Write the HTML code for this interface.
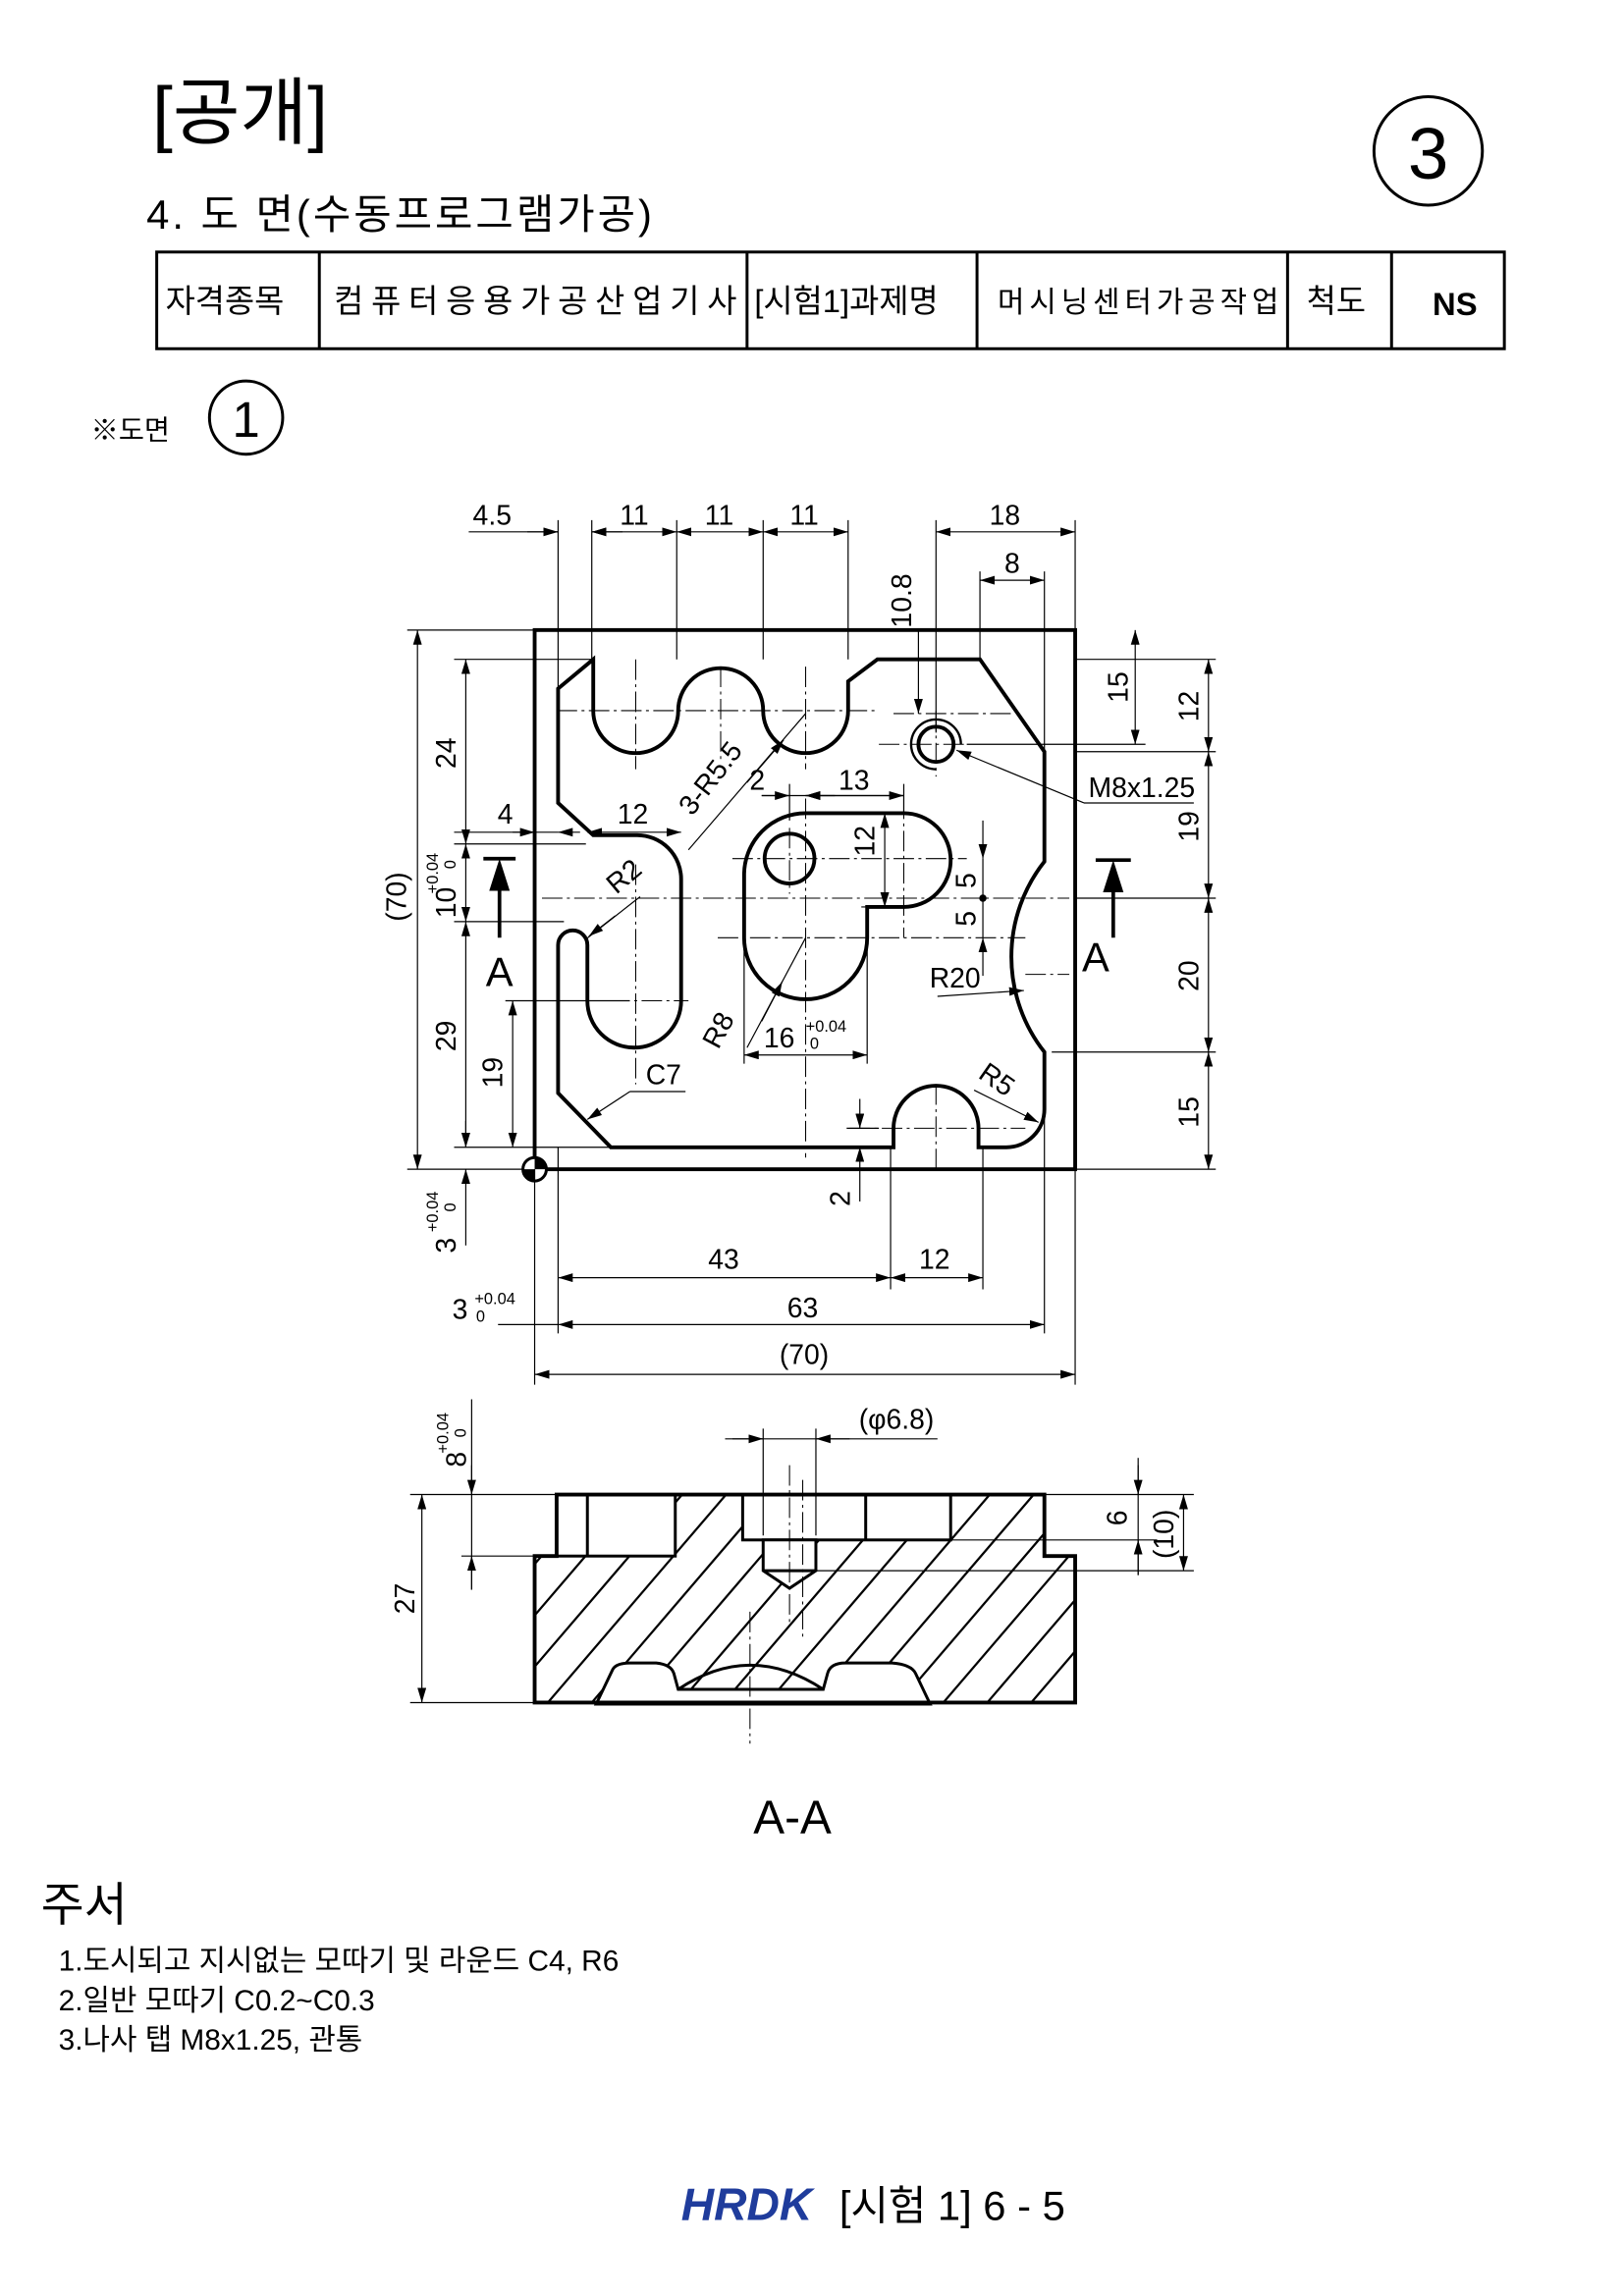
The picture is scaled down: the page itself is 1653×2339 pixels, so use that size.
<!DOCTYPE html>
<html><head><meta charset="utf-8"><style>
html,body{margin:0;padding:0;background:#fff}
svg{display:block}
text{font-family:"Liberation Sans","Noto Sans CJK KR",sans-serif;fill:#000}
.k{stroke:#000;stroke-width:2.6;fill:none}
.t{stroke:#000;stroke-width:0.8;fill:none}
.c{stroke:#000;stroke-width:0.7;fill:none;stroke-dasharray:14 3 2 3}
.d{stroke:#000;stroke-width:0.8;fill:none;marker-start:url(#a);marker-end:url(#a)}
.e{stroke:#000;stroke-width:0.8;fill:none;marker-end:url(#a)}
.dim{font-size:19px}
</style></head><body>
<svg width="1653" height="2339" viewBox="0 0 1108 1567" preserveAspectRatio="none" xmlns="http://www.w3.org/2000/svg">
<defs>
<marker id="a" viewBox="0 0 10 6" refX="10" refY="3" markerWidth="10" markerHeight="6" markerUnits="userSpaceOnUse" orient="auto-start-reverse"><path d="M0,0 L10,3 L0,6 Z" fill="#000"/></marker>
<clipPath id="sec"><path d="M365,1062 L380,1062 L380,1020 L713,1020 L713,1062 L734,1062 L734,1162 L365,1162 Z"/></clipPath>
</defs>

<!-- header -->
<text x="104" y="94" font-size="50">[공개]</text>
<text x="100" y="156" font-size="28" letter-spacing="2">4. 도 면(수동프로그램가공)</text>
<circle cx="975" cy="103" r="37" class="k" style="stroke-width:2"/>
<text x="975" y="122" font-size="50" text-anchor="middle">3</text>
<rect x="107" y="172" width="920" height="66" class="k" style="stroke-width:2"/>
<path d="M218,172V238M510,172V238M667,172V238M879,172V238M950,172V238" class="k" style="stroke-width:2"/>
<g font-size="22">
<text x="113" y="213">자격종목</text>
<text x="228" y="213" textLength="275">컴퓨터응용가공산업기사</text>
<text x="515" y="213">[시험1]과제명</text>
<text x="681" y="213" font-size="20" textLength="192">머시닝센터가공작업</text>
<text x="892" y="213">척도</text>
<text x="978" y="215" font-weight="bold">NS</text>
</g>
<text x="62" y="300" font-size="19">※도면</text>
<circle cx="168" cy="285" r="25" class="k" style="stroke-width:2"/>
<text x="168" y="298" font-size="34" text-anchor="middle">1</text>

<!-- top view -->
<rect x="365" y="430" width="369" height="368" class="k"/>
<path class="k" d="M405,450 L405,485 A29,29 0 0 0 463,485 A29,29 0 0 1 521,485 A29,29 0 0 0 579,485 L579,465 L599,450 L669,450 L713,513 L713,588 A105,105 0 0 0 713,718 L713,757 A26,26 0 0 1 687,783 L668,783 L668,770 A29,29 0 0 0 610,770 L610,783 L417,783 L381,746 L381,645 A10,10 0 0 1 401,645 L401,683 A32,32 0 0 0 465,683 L465,600 A30,30 0 0 0 435,570 L405,570 L381,548 L381,470 Z"/>
<path class="k" d="M508,597 A42,42 0 0 1 550,555 L617,555 A32,32 0 0 1 617,619 L592,619 L592,640 A42,42 0 0 1 508,640 Z"/>
<circle cx="539" cy="586" r="17" class="k"/>
<circle cx="639" cy="508" r="12" class="k"/>
<path class="k" d="M656,508 A17,17 0 1 0 639,525" style="stroke-width:1.6"/>
<g class="c">
<path d="M380,485H600M610,487H690M600,508H660M500,586H660M370,613H730M490,640H700M372,683H470M700,665H730M580,770H700M434,450V525M492,455V520M550,455V525M639,485V530M539,565V610M550,545V790M617,545V640M434,590V740M639,740V800"/>
</g>
<path class="t" d="M381,355V470M404,355V450M462,355V450M521,355V450M579,355V450M639,355V500M734,355V430M669,390V450M713,390V513M627,430V450"/>
<path class="t" d="M320,363H381"/><path class="e" d="M360,363H381"/><path class="e" d="M425,363H404"/>
<path class="d" d="M404,363H462"/><path class="d" d="M462,363H521"/><path class="d" d="M521,363H579"/>
<path class="d" d="M639,363H734"/><path class="d" d="M669,396H713"/>
<path class="e" d="M627,450V487"/>
<g class="dim" text-anchor="middle">
<text x="336" y="358">4.5</text><text x="433" y="358">11</text><text x="491" y="358">11</text><text x="549" y="358">11</text>
<text x="686" y="358">18</text><text x="691" y="391">8</text>
<text transform="translate(622,410) rotate(-90)">10.8</text>
</g>
<path class="t" d="M278,430H365M310,450H405M310,576H400M310,629H385M310,783H417M278,798H365M345,683H430M310,568H381"/>
<path class="d" d="M285,430V798"/>
<path class="d" d="M318,450V576"/><path class="d" d="M318,576V629"/><path class="d" d="M318,629V783"/>
<path class="d" d="M350,683V783"/>
<path class="e" d="M318,850V798"/><path class="e" d="M318,765V783"/>
<path class="e" d="M350,568H365"/><path class="e" d="M396,568H381"/>
<path class="d" d="M401,568H465"/>
<g class="dim" text-anchor="middle">
<text transform="translate(277,612) rotate(-90)">(70)</text>
<text transform="translate(311,514) rotate(-90)">24</text>
<text transform="translate(311,616) rotate(-90)">10</text>
<text transform="translate(299,596) rotate(-90)" font-size="11">+0.04</text>
<text transform="translate(311,590) rotate(-90)" font-size="11">0</text>
<text transform="translate(311,707) rotate(-90)">29</text>
<text transform="translate(343,732) rotate(-90)">19</text>
<text transform="translate(311,850) rotate(-90)">3</text>
<text transform="translate(299,827) rotate(-90)" font-size="11">+0.04</text>
<text transform="translate(311,824) rotate(-90)" font-size="11">0</text>
<text x="345" y="562">4</text><text x="432" y="562">12</text>
</g>
<path d="M330,586H352" stroke="#000" stroke-width="2.5"/><path d="M341,640V608" stroke="#000" stroke-width="2.5"/><path d="M334,608L341,586L348,608Z"/>
<path d="M748,587H772" stroke="#000" stroke-width="2.5"/><path d="M760,640V609" stroke="#000" stroke-width="2.5"/><path d="M753,609L760,587L767,609Z"/>
<text x="341" y="673" font-size="28" text-anchor="middle">A</text>
<text x="748" y="663" font-size="28" text-anchor="middle">A</text>
<path class="t" d="M734,450H830M734,513H830M734,613H830M718,718H830M734,798H830M660,508H782"/>
<path class="d" d="M775,430V508"/>
<path class="d" d="M825,450V513"/><path class="d" d="M825,513V613"/><path class="d" d="M825,613V718"/><path class="d" d="M825,718V798"/>
<g class="dim" text-anchor="middle">
<text transform="translate(770,469) rotate(-90)">15</text>
<text transform="translate(818,482) rotate(-90)">12</text>
<text transform="translate(818,564) rotate(-90)">19</text>
<text transform="translate(818,666) rotate(-90)">20</text>
<text transform="translate(818,759) rotate(-90)">15</text>
</g>
<path class="t" d="M815,548H740"/><path class="e" d="M740,548L653,512"/>
<text x="743" y="544" class="dim">M8x1.25</text>
<path class="t" d="M470,580L550,487"/><path class="e" d="M510,534L535,505"/>
<text transform="translate(490,535) rotate(-52)" class="dim" text-anchor="middle">3-R5.5</text>
<path class="t" d="M539,535V560M617,535V555M588,619H620"/>
<path class="t" d="M520,543H617"/><path class="e" d="M520,543H539"/><path class="e" d="M570,543H550"/><path class="d" d="M550,543H617"/>
<text x="517" y="539" class="dim" text-anchor="middle">2</text><text x="583" y="539" class="dim" text-anchor="middle">13</text>
<path class="d" d="M604,555V619"/>
<text transform="translate(597,574) rotate(-90)" class="dim" text-anchor="middle">12</text>
<path class="e" d="M671,560V586"/><path class="e" d="M671,666V640"/><path class="t" d="M671,586V640"/>
<circle cx="671" cy="613" r="2.5"/>
<text transform="translate(666,601) rotate(-90)" class="dim" text-anchor="middle">5</text>
<text transform="translate(666,627) rotate(-90)" class="dim" text-anchor="middle">5</text>
<path class="t" d="M400,641L437,612"/><path class="e" d="M420,625L402,639"/>
<text transform="translate(430,603) rotate(-40)" class="dim" text-anchor="middle">R2</text>
<path class="t" d="M510,715L550,640"/><path class="e" d="M520,697L534,670"/>
<text transform="translate(496,706) rotate(-62)" class="dim" text-anchor="middle">R8</text>
<path class="t" d="M508,640V726M592,640V726"/><path class="d" d="M508,720H592"/>
<text x="532" y="715" class="dim" text-anchor="middle">16</text>
<text x="564" y="704" font-size="11" text-anchor="middle">+0.04</text><text x="556" y="716" font-size="11" text-anchor="middle">0</text>
<path class="e" d="M640,680L699,676"/><text x="652" y="674" class="dim" text-anchor="middle">R20</text>
<path class="t" d="M468,745H430"/><path class="e" d="M430,745L401,764"/><text x="453" y="740" class="dim" text-anchor="middle">C7</text>
<path class="e" d="M665,744L709,766"/>
<text transform="translate(677,742) rotate(35)" class="dim" text-anchor="middle">R5</text>
<path class="t" d="M578,783H610M578,770H600"/>
<path class="e" d="M587,750V770"/><path class="e" d="M587,820V783"/>
<text transform="translate(580,818) rotate(-90)" class="dim" text-anchor="middle">2</text>
<circle cx="365" cy="798" r="8" fill="#fff" stroke="#000" stroke-width="2"/>
<path d="M365,798H373A8,8 0 0 0 365,790Z M365,798H357A8,8 0 0 0 365,806Z"/>
<path class="t" d="M381,783V910M365,798V945M608,783V880M671,783V880M713,760V910M734,798V945"/>
<path class="d" d="M381,872H608"/><path class="d" d="M608,872H671"/><path class="d" d="M381,904H713"/><path class="d" d="M365,938H734"/>
<path class="t" d="M340,904H381"/>
<g class="dim" text-anchor="middle">
<text x="494" y="866">43</text><text x="638" y="866">12</text><text x="548" y="899">63</text><text x="549" y="931">(70)</text>
<text x="314" y="900">3</text>
</g>
<text x="324" y="890" font-size="11">+0.04</text><text x="325" y="902" font-size="11">0</text>

<!-- section view -->
<g clip-path="url(#sec)" class="t" style="stroke-width:1.5">
<path d="M260,1190L440,980M290,1190L470,980M320,1190L500,980M350,1190L530,980M380,1190L560,980M410,1190L590,980M440,1190L620,980M470,1190L650,980M500,1190L680,980M530,1190L710,980M560,1190L740,980M590,1190L770,980M620,1190L800,980M650,1190L830,980M680,1190L860,980M710,1190L890,980M740,1190L920,980M770,1190L950,980"/>
</g>
<g fill="#fff" stroke="#000" stroke-width="2">
<rect x="380" y="1020" width="81" height="42"/>
<rect x="507" y="1020" width="142" height="31"/>
<path d="M521,1051V1072L539,1084L557,1072V1051Z"/>
<path d="M407,1163L418,1140Q420,1135 430,1135H448Q458,1136 460,1142L463,1153H562L565,1142Q567,1135 577,1135H609Q622,1136 625,1142L635,1163Z"/>
</g>
<path class="t" d="M463,1153Q512,1120 562,1153" style="stroke-width:2"/>
<path class="k" d="M365,1062H380V1020H713V1062H734V1162H365Z"/>
<path class="k" d="M401,1020V1062M591,1020V1051M521,1072H557" style="stroke-width:2"/>
<path class="c" d="M539,1000V1110M512,1100V1190M548,1010V1120"/>
<path class="t" d="M521,975V1048M557,975V1048"/>
<path class="t" d="M495,982H640"/><path class="e" d="M500,982H521"/><path class="e" d="M580,982H557"/>
<text x="612" y="975" class="dim" text-anchor="middle">(φ6.8)</text>
<path class="t" d="M280,1020H380M315,1062H365M280,1162H365M713,1020H815M648,1051H790M557,1072H815"/>
<path class="d" d="M288,1020V1162"/>
<path class="t" d="M322,955V1085"/><path class="e" d="M322,1000V1020"/><path class="e" d="M322,1085V1062"/>
<path class="t" d="M777,995V1075"/><path class="e" d="M777,1000V1020"/><path class="e" d="M777,1075V1051"/>
<path class="d" d="M808,1020V1072"/>
<g class="dim" text-anchor="middle">
<text transform="translate(283,1091) rotate(-90)">27</text>
<text transform="translate(318,996) rotate(-90)">8</text>
<text transform="translate(769,1036) rotate(-90)">6</text>
<text transform="translate(801,1047) rotate(-90)">(10)</text>
</g>
<text transform="translate(306,978) rotate(-90)" font-size="11" text-anchor="middle">+0.04</text>
<text transform="translate(318,978) rotate(-90)" font-size="11" text-anchor="middle">0</text>
<text x="541" y="1251" font-size="32" text-anchor="middle">A-A</text>

<text x="28" y="1311" font-size="32">주서</text>
<g font-size="20">
<text x="40" y="1345">1.도시되고 지시없는 모따기 및 라운드 C4, R6</text>
<text x="40" y="1372">2.일반 모따기 C0.2~C0.3</text>
<text x="40" y="1399">3.나사 탭 M8x1.25, 관통</text>
</g>
<text x="465" y="1515" font-size="31" font-weight="bold" font-style="italic" style="fill:#1f3c9c">HRDK</text>
<text x="573" y="1515" font-size="28">[시험 1] 6 - 5</text>
</svg>
</body></html>
